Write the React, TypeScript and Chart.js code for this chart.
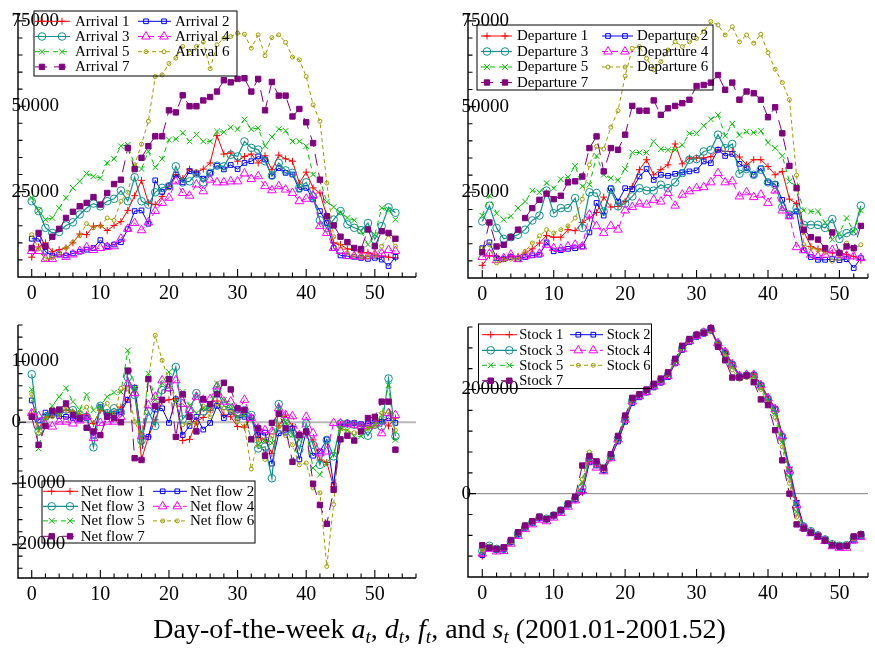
import React, { useEffect, useRef } from 'react';
import { Chart, registerables } from 'chart.js';
import { drawPoint } from 'chart.js/helpers';

Chart.register(...registerables);
Chart.defaults.font.family = '"Liberation Serif", "Times New Roman", serif';
Chart.defaults.color = '#000';

const WEEKS = [0,1,2,3,4,5,6,7,8,9,10,11,12,13,14,15,16,17,18,19,20,21,22,23,24,25,26,27,28,29,30,31,32,33,34,35,36,37,38,39,40,41,42,43,44,45,46,47,48,49,50,51,52,53];
const X_TICKS = [0, 10, 20, 30, 40, 50];
const Y_TICKS_ARRIVAL = [25000, 50000, 75000];
const Y_TICKS_DEPARTURE = [25000, 50000, 75000];
const Y_TICKS_NET = [-20000, -10000, 0, 10000];
const Y_TICKS_STOCK = [0, 200000];

const ARR1 = [5800,8800,10000,7400,8000,8500,10000,12600,12400,14900,15100,13600,15100,16200,19500,23800,28300,21700,21200,23600,26600,30000,28800,31600,30500,31600,33400,41400,36000,36300,33900,35300,36000,33400,35500,31400,35700,34600,33900,27500,30700,26100,24600,17800,10000,9500,8200,8000,7100,7100,6600,6100,5800,5600];
const ARR2 = [11200,11200,7400,6300,6600,6300,6900,7400,8000,8500,10800,9000,9500,10200,14000,19300,19500,15600,28300,24900,26600,30000,27700,31000,30300,28800,30500,32600,31500,32800,31600,33400,33900,35300,34400,29500,31900,30500,30000,25600,26100,22700,19300,15800,8500,6300,6100,5900,5600,5300,5600,5100,3200,5900];
const ARR3 = [22200,19300,14400,12900,13200,15100,16000,18300,20200,21500,20700,22200,22900,25300,22200,29200,22200,21200,24800,26100,26600,32400,27700,28000,30300,27700,30500,32600,32400,35800,35300,39700,37800,37300,33900,29700,33400,31200,30500,26100,27700,23600,16600,14400,16800,19300,15400,14400,13700,15800,11000,14900,20400,18800];
const ARR4 = [7600,7600,5300,5300,6600,5900,6600,7600,8700,7900,8500,8800,9000,11200,14100,15800,13700,16000,19300,21700,23200,28000,24600,23800,27100,25100,28500,27700,27700,28000,28000,30300,28700,29500,26600,25400,26600,25600,24600,22200,22900,23800,14900,12900,8500,7600,6100,6100,5900,6100,6600,6900,7900,7600];
const ARR5 = [23200,19500,16800,17300,20200,23200,26100,28000,30300,29500,29000,33400,34600,38300,38700,32600,31600,36800,32100,34600,40200,40400,42200,39700,41700,39700,39700,42600,42400,43800,43300,46100,43300,43600,38300,41000,43300,42800,39700,39700,38300,30000,28500,22000,20500,18800,17300,16600,13400,9500,12400,20200,19700,16800];
const ARR6 = [12400,8200,5300,5600,6900,8500,10200,12100,15600,14400,14900,17300,16600,22200,24800,32900,38900,45600,58700,59200,62500,64100,67500,65600,67500,68800,61000,68000,69900,70400,71400,71100,67000,70900,64800,70100,70900,68700,64400,63600,58700,50400,45600,27500,11800,9000,7100,6100,5900,5900,6100,9000,12400,9000];
const ARR7 = [8500,12900,9000,11800,14100,17300,19100,20700,21700,23400,21200,24600,27200,28500,37800,31600,34900,38300,41200,41200,48800,48200,53200,50000,50000,51700,52700,54300,57600,57000,58000,58200,54300,58000,48800,57100,53100,53100,47000,49200,45300,39200,28500,17800,15100,11800,10200,8500,8200,13900,9000,13400,12900,11200];

const DEP1 = [3700,6500,6300,5800,6300,6300,7300,8500,10200,12400,11900,11900,14100,13800,16200,17500,19100,23600,20700,20900,22300,26700,31600,34500,30100,31600,33000,39100,33300,35000,35000,35000,35400,37400,36900,36900,35300,33000,34500,34500,32500,30100,31100,23000,21700,13600,9200,8500,7800,7300,7500,6800,6300,5200];
const DEP2 = [8700,10400,5800,5500,6100,5500,6100,6600,6800,10400,7800,8100,8500,8700,9200,13300,21900,18200,26200,22300,26200,25900,29600,31800,28600,30100,29800,30400,30800,31100,31400,34000,33500,37400,35600,36200,33300,32000,30100,32000,27900,27400,22800,18000,19400,8100,6100,5300,5300,5500,5200,5500,2900,5800];
const DEP3 = [16500,21100,14600,11400,11900,12600,14100,16800,18200,25500,18900,20400,20400,23300,14600,25000,24800,19400,25700,20900,21700,23800,26200,25500,25500,27200,26200,27900,30600,34500,34700,36900,37400,41800,37900,39100,30400,31800,30100,31600,27900,27200,20700,18500,20400,15500,15500,15500,14600,17200,11400,13100,13600,21100];
const DEP4 = [6100,7100,5200,5800,6800,5500,6300,6800,7100,9700,8700,8500,9200,9700,9200,18500,15100,13100,15200,14100,19700,20700,21700,21400,22800,22300,24800,21100,24300,25300,26200,26500,27900,30600,27900,28200,23800,25000,23600,24300,21900,25500,19700,18000,9000,8100,6800,6300,6800,8100,6800,6500,6300,5800];
const DEP5 = [18200,24000,18900,17000,18000,20400,22300,25500,25000,27700,26200,28800,29400,32700,26700,27200,35600,30100,29100,28500,31800,36600,36600,36600,39800,37600,37400,37400,38800,42200,42200,44400,46300,47600,41500,45000,41700,42700,42400,42900,39500,37900,35600,28200,26700,19700,19400,19400,16200,11200,13100,17500,13500,19700];
const DEP6 = [8700,9700,4400,5300,5500,5500,7800,10200,12300,14100,13100,14100,15200,17500,23000,33000,38400,37600,44000,48800,58900,67000,67500,64100,60700,63100,66500,68900,67500,68900,69900,71900,74800,73800,70900,73300,68900,70900,68500,71100,65700,60900,57000,52000,30000,9700,8700,8100,7500,4900,5800,10200,8500,9700];
const DEP7 = [7500,16200,9200,9700,11900,14100,17500,20400,22800,24600,23000,24000,27900,28200,29600,37900,41300,31100,37900,37400,41800,50200,48800,48800,51800,47600,49500,50200,51000,52000,56000,56300,57000,59200,54900,57000,52000,54400,53900,52000,46900,49800,42200,32700,26200,14100,11900,11200,8700,13300,7300,9200,8700,15200];

const NET1 = [1500,-1000,800,1200,1600,2000,1700,1200,1200,-200,2000,1500,1500,2500,3700,5700,-6100,-2400,400,3400,3700,3900,-3000,-2800,100,800,2000,3500,1200,900,-700,-800,700,-2400,-2900,-5100,-600,1200,-700,-2100,-1500,-2900,-6200,-6600,-10600,-400,-300,-400,-600,-700,300,400,-600,700];
const NET2 = [3600,300,1600,1200,1000,900,700,500,700,-2200,2500,1200,1400,1700,3700,5700,-2100,-2400,2100,2300,-100,3800,-2100,-600,900,-1200,-100,2700,700,1700,700,900,800,-2100,-1700,-6800,-1800,-1700,-1000,-6100,-1500,-5500,-4800,-2800,-10300,-600,-100,-100,-300,-200,100,100,700,-100];
const NET3 = [7900,-1500,900,1500,1800,2100,2000,1200,900,-4100,2700,1500,2300,1600,7400,4500,-3000,1800,-600,5300,5700,9100,500,2000,4800,1800,2500,5300,2700,2300,1500,2000,1200,-4300,-4000,-9200,3000,-200,-1800,-4500,-200,-3700,-7000,-2900,-5600,-200,-200,-400,-700,-2200,-400,-700,7200,-2300];
const NET4 = [1500,1000,-400,-700,100,100,-200,300,900,-2600,-100,100,100,900,6400,4800,-2300,2800,4200,6900,5600,6900,3000,2000,4200,3700,3800,5900,3400,3400,1500,3700,700,-1000,-1300,-1500,2300,1200,1000,-2100,900,-1800,-5100,-4800,-100,-200,-300,-400,-700,-600,-200,-1800,1500,1200];
const NET5 = [5400,-4300,800,2700,4200,5600,3400,2100,4500,2000,2700,4200,4900,5000,11800,5600,-3700,8000,3700,6400,8300,3400,5000,2800,1500,2300,2600,6400,3700,2800,900,1200,-2900,-3700,-2900,-3400,2000,100,-2100,-2900,-1500,-7500,-8600,-6600,-5300,-1000,-1300,-2300,-2300,-1000,-400,1200,6100,-2900];
const NET6 = [4600,-1800,700,900,1200,2300,1700,1700,2500,-100,2000,3100,1000,5600,5600,100,-2300,7200,14300,10200,6900,3100,-400,-100,-200,2700,900,3000,2300,1700,100,-700,-7700,-2900,-6100,-2200,-700,-2200,-3700,-7000,-6700,-10800,-11600,-23700,-13500,-1000,-1500,-1700,-1500,-1000,-600,1500,1700,-1300];
const NET7 = [900,-3700,-600,1900,2100,3100,1200,700,-900,-1500,-2100,900,700,0,8500,-5900,-6200,7100,2700,3700,7100,-2400,4600,900,-1500,3800,3000,4600,6500,5400,2300,2000,-2800,-1000,-5500,-100,1400,-1000,-6500,-2100,-1500,-10100,-13600,-16700,-11100,-2800,-2200,-3000,-1500,700,900,3400,3400,-4500];

const STOCK1 = [-120000,-104000,-109000,-108000,-94000,-79000,-66000,-56000,-47000,-49000,-43000,-34000,-22000,-12000,2000,62000,56000,44000,68000,102000,140000,176000,187000,195000,205000,214000,226000,252000,278000,292000,302000,308000,313000,290000,273000,251000,228000,227000,230000,211000,186000,165000,114000,51000,-13000,-62000,-72000,-79000,-87000,-96000,-100000,-99000,-87000,-82000];
const STOCK2 = [-118000,-102000,-108000,-107000,-93000,-78000,-65000,-56000,-47000,-48000,-42000,-33000,-21000,-11000,4000,60000,54000,45000,70000,100000,138000,174000,185000,194000,204000,213000,224000,250000,276000,291000,301000,307000,313000,288000,271000,249000,226000,226000,228000,209000,183000,163000,110000,46000,-18000,-63000,-73000,-80000,-88000,-98000,-102000,-101000,-90000,-83000];
const STOCK3 = [-110000,-100000,-106000,-106000,-92000,-77000,-64000,-55000,-46000,-48000,-42000,-33000,-21000,-10000,12000,66000,57000,46000,72000,106000,144000,179000,189000,197000,208000,217000,228000,254000,280000,294000,304000,310000,316000,287000,270000,247000,224000,227000,227000,207000,181000,160000,107000,40000,-26000,-63000,-72000,-80000,-88000,-97000,-100000,-99000,-85000,-79000];
const STOCK4 = [-115000,-106000,-111000,-110000,-96000,-81000,-68000,-59000,-50000,-53000,-46000,-37000,-25000,-13000,6000,64000,50000,43000,68000,104000,142000,177000,187000,195000,206000,215000,226000,252000,278000,293000,303000,309000,316000,289000,272000,248000,226000,228000,228000,208000,183000,162000,110000,44000,-22000,-66000,-76000,-83000,-91000,-101000,-104000,-104000,-90000,-83000];
const STOCK5 = [-110000,-102000,-106000,-105000,-91000,-76000,-63000,-54000,-45000,-47000,-41000,-32000,-20000,-8000,22000,76000,60000,48000,74000,108000,146000,181000,190000,198000,209000,218000,229000,255000,281000,295000,304000,309000,314000,285000,268000,244000,222000,225000,225000,205000,178000,155000,100000,32000,-35000,-65000,-73000,-80000,-88000,-96000,-99000,-98000,-84000,-78000];
const STOCK6 = [-108000,-101000,-105000,-104000,-90000,-75000,-62000,-53000,-45000,-47000,-41000,-31000,-19000,-7000,28000,80000,60000,48000,74000,109000,148000,183000,191000,199000,210000,219000,230000,256000,282000,295000,304000,309000,314000,284000,264000,238000,220000,223000,222000,200000,172000,146000,90000,20000,-45000,-66000,-73000,-81000,-89000,-97000,-100000,-99000,-86000,-80000];
const STOCK7 = [-99000,-104000,-106000,-103000,-89000,-74000,-61000,-53000,-44000,-49000,-41000,-31000,-19000,-6000,54000,72000,62000,50000,76000,111000,150000,184000,191000,200000,211000,221000,233000,259000,284000,297000,305000,309000,318000,282000,256000,223000,223000,227000,214000,181000,170000,122000,64000,0,-59000,-67000,-75000,-82000,-90000,-99000,-101000,-100000,-82000,-78000];

type Style = { color: string; dash: number[]; pointStyle: any; radius: number; fill: boolean; width: number };
const STYLES: Style[] = [
  { color: '#ff0000', dash: [], pointStyle: 'cross', radius: 3.5, fill: false, width: 1 },
  { color: '#0000ff', dash: [], pointStyle: 'rect', radius: 3.3, fill: false, width: 1 },
  { color: '#109090', dash: [], pointStyle: 'circle', radius: 3.8, fill: false, width: 1.2 },
  { color: '#ff00ff', dash: [6, 4], pointStyle: 'triangle', radius: 5, fill: false, width: 1 },
  { color: '#00c000', dash: [5, 4], pointStyle: 'crossRot', radius: 4, fill: false, width: 1 },
  { color: '#9c9c00', dash: [4, 3], pointStyle: 'circle', radius: 2, fill: false, width: 1 },
  { color: '#800080', dash: [12, 7], pointStyle: 'rect', radius: 3.8, fill: true, width: 1 },
];

const PANELS = [
  {
    name: 'Arrival', series: [ARR1, ARR2, ARR3, ARR4, ARR5, ARR6, ARR7], yTicks: Y_TICKS_ARRIVAL,
    xMin: -2, xMax: 56, yMin: 0, yMax: 77300, yMajor: 25000, yMinor: 5000,
    area: { left: 18, right: 416, top: 13, bottom: 277 }, zero: null as null | { color: string; width: number },
    legend: { box: [34, 11, 203, 65], rows: [21.3, 36.5, 51.7, 66.9], font: 15,
      cols: [{ l0: 35, l1: 70, m: [42, 62], t: 75 }, { l0: 138, l1: 171, m: [146, 164], t: 175 }] },
  },
  {
    name: 'Departure', series: [DEP1, DEP2, DEP3, DEP4, DEP5, DEP6, DEP7], yTicks: Y_TICKS_DEPARTURE,
    xMin: -2, xMax: 54, yMin: 0, yMax: 77300, yMajor: 25000, yMinor: 5000,
    area: { left: 468, right: 868, top: 13, bottom: 278 }, zero: null,
    legend: { box: [477, 25, 236, 65], rows: [36, 51.5, 67, 82.5], font: 15,
      cols: [{ l0: 481, l1: 512, m: [487, 505], t: 517 }, { l0: 602, l1: 633, m: [608, 625], t: 637 }] },
  },
  {
    name: 'Net flow', series: [NET1, NET2, NET3, NET4, NET5, NET6, NET7], yTicks: Y_TICKS_NET,
    xMin: -2, xMax: 56, yMin: -25600, yMax: 16000, yMajor: 10000, yMinor: 2000,
    area: { left: 18, right: 416, top: 325, bottom: 578 }, zero: { color: '#b8b8b8', width: 2 },
    legend: { box: [42, 481, 213, 62], rows: [491.3, 506.3, 520.9, 536.3], font: 15,
      cols: [{ l0: 43, l1: 78, m: [51.7, 70], t: 80.7 }, { l0: 153, l1: 187, m: [162.7, 177.3], t: 190 }] },
  },
  {
    name: 'Stock', series: [STOCK1, STOCK2, STOCK3, STOCK4, STOCK5, STOCK6, STOCK7], yTicks: Y_TICKS_STOCK,
    xMin: -2, xMax: 54, yMin: -160000, yMax: 320000, yMajor: 200000, yMinor: 40000,
    area: { left: 468, right: 868, top: 327, bottom: 577 }, zero: { color: '#808080', width: 1 },
    legend: { box: [478.5, 324, 173, 64.5], rows: [334.7, 350.3, 365.3, 380.7], font: 14.5,
      cols: [{ l0: 482, l1: 517, m: [490.7, 509.3], t: 519.3 }, { l0: 570, l1: 603, m: [578.3, 593.3], t: 606.7 }] },
  },
];

const W = 875;
const H = 654;
const X_AXIS_H = 33;

function makeDecor(p: any) {
  return {
    id: 'decor_' + p.name.replace(' ', '_'),
    beforeDatasetsDraw(chart: any) {
      if (!p.zero) return;
      const { ctx, chartArea: ca, scales } = chart;
      const py = scales.y.getPixelForValue(0);
      ctx.save();
      ctx.strokeStyle = p.zero.color;
      ctx.lineWidth = p.zero.width;
      ctx.beginPath();
      ctx.moveTo(ca.left, py);
      ctx.lineTo(ca.right, py);
      ctx.stroke();
      ctx.restore();
    },
    afterDraw(chart: any) {
      const { ctx, chartArea: ca, scales } = chart;
      const xs = scales.x;
      const ys = scales.y;
      ctx.save();
      ctx.setLineDash([]);
      ctx.strokeStyle = '#000';
      ctx.lineWidth = 1.4;
      ctx.beginPath();
      ctx.moveTo(ca.left, ca.top);
      ctx.lineTo(ca.left, ca.bottom);
      ctx.lineTo(ca.right, ca.bottom);
      ctx.stroke();
      ctx.lineWidth = 1.1;
      ctx.beginPath();
      for (let v = Math.ceil(p.xMin / 2) * 2; v <= p.xMax + 1e-9; v += 2) {
        if (v <= p.xMin) continue;
        const px = xs.getPixelForValue(v);
        const len = v % 10 === 0 ? 8 : 4.5;
        ctx.moveTo(px, ca.bottom);
        ctx.lineTo(px, ca.bottom - len);
      }
      for (let v = Math.ceil(p.yMin / p.yMinor) * p.yMinor; v <= p.yMax + 1e-9; v += p.yMinor) {
        if (v <= p.yMin) continue;
        const py = ys.getPixelForValue(v);
        const len = v % p.yMajor === 0 ? 8 : 4.5;
        ctx.moveTo(ca.left, py);
        ctx.lineTo(ca.left + len, py);
      }
      ctx.stroke();

      // legend
      const L = p.legend;
      ctx.lineWidth = 1;
      ctx.strokeStyle = '#000';
      ctx.strokeRect(L.box[0], L.box[1], L.box[2], L.box[3]);
      for (let i = 0; i < 7; i++) {
        const row = Math.floor(i / 2);
        const c = L.cols[i % 2];
        const yy = L.rows[row];
        const st = STYLES[i];
        ctx.save();
        ctx.strokeStyle = st.color;
        ctx.lineWidth = st.width;
        ctx.setLineDash(st.dash);
        ctx.beginPath();
        ctx.moveTo(c.l0, yy);
        ctx.lineTo(c.l1, yy);
        ctx.stroke();
        ctx.restore();
        for (const mx of c.m) {
          ctx.save();
          ctx.setLineDash([]);
          ctx.strokeStyle = st.color;
          ctx.fillStyle = st.fill ? st.color : 'rgba(0,0,0,0)';
          ctx.lineWidth = 1;
          drawPoint(ctx, { pointStyle: st.pointStyle, radius: st.radius, rotation: 0, borderWidth: 1 } as any, mx, yy);
          ctx.restore();
        }
        ctx.fillStyle = '#000';
        ctx.font = `${L.font}px "Liberation Serif", serif`;
        ctx.textBaseline = 'middle';
        ctx.textAlign = 'left';
        ctx.fillText(`${p.name} ${i + 1}`, c.t, yy + 0.5);
      }
      ctx.restore();
    },
  };
}

function Panel({ p }: { p: any }) {
  const ref = useRef<HTMLCanvasElement | null>(null);
  useEffect(() => {
    if (!ref.current) return;
    const a = p.area;
    const datasets = p.series.map((vals: number[], i: number) => {
      const st = STYLES[i];
      return {
        label: `${p.name} ${i + 1}`,
        data: vals,
        borderColor: st.color,
        borderWidth: st.width,
        borderDash: st.dash,
        pointStyle: st.pointStyle,
        pointRadius: st.radius,
        pointBorderWidth: 1,
        pointBorderColor: st.color,
        pointBackgroundColor: st.fill ? st.color : 'rgba(0,0,0,0)',
        tension: 0,
        fill: false,
        clip: false,
        order: 7 - i,
      };
    });
    const chart = new Chart(ref.current, {
      type: 'line',
      data: { labels: WEEKS, datasets },
      options: {
        responsive: false,
        animation: false,
        events: [],
        layout: { padding: { left: a.left, top: a.top, right: W - a.right, bottom: H - a.bottom - X_AXIS_H } },
        plugins: { legend: { display: false }, tooltip: { enabled: false } },
        scales: {
          x: {
            type: 'linear', min: p.xMin, max: p.xMax,
            grid: { display: false, drawTicks: false }, border: { display: false },
            afterBuildTicks: (s: any) => { s.ticks = X_TICKS.map((v) => ({ value: v })); },
            afterFit: (s: any) => { s.height = X_AXIS_H; s.paddingLeft = 0; s.paddingRight = 0; },
            ticks: { padding: 5, autoSkip: false, maxRotation: 0,
              font: { size: 20 }, color: '#000', callback: (v: any) => String(v) },
          },
          y: {
            type: 'linear', min: p.yMin, max: p.yMax,
            grid: { display: false, drawTicks: false }, border: { display: false },
            afterBuildTicks: (s: any) => { s.ticks = p.yTicks.map((v: number) => ({ value: v })); },
            afterFit: (s: any) => { s.width = 0; s.paddingTop = 0; s.paddingBottom = 0; },
            ticks: { mirror: true, padding: -6.5, crossAlign: 'near', autoSkip: false,
              font: { size: 19 }, color: '#000', callback: (v: any) => String(v) },
          },
        },
      } as any,
      plugins: [makeDecor(p)],
    });
    return () => chart.destroy();
  }, [p]);
  return <canvas ref={ref} width={W} height={H} style={{ position: 'absolute', left: 0, top: 0 }} />;
}

const SUB: React.CSSProperties = { fontSize: '0.68em', verticalAlign: '-0.28em', lineHeight: 0, fontStyle: 'italic' };

export default function App() {
  return (
    <div style={{ position: 'absolute', left: 0, top: 0, width: W, height: H, background: '#fff', overflow: 'hidden' }}>
      {PANELS.map((p) => <Panel key={p.name} p={p} />)}
      <div style={{ position: 'absolute', left: 2, top: 612, width: W, height: 34, lineHeight: '34px', textAlign: 'center',
        fontFamily: '"Liberation Serif", serif', fontSize: 28, color: '#000', whiteSpace: 'nowrap' }}>
        Day-of-the-week <i>a</i><span style={SUB}>t</span>, <i>d</i><span style={SUB}>t</span>, <i>f</i><span style={SUB}>t</span>, and <i>s</i><span style={SUB}>t</span> (2001.01-2001.52)
      </div>
    </div>
  );
}
